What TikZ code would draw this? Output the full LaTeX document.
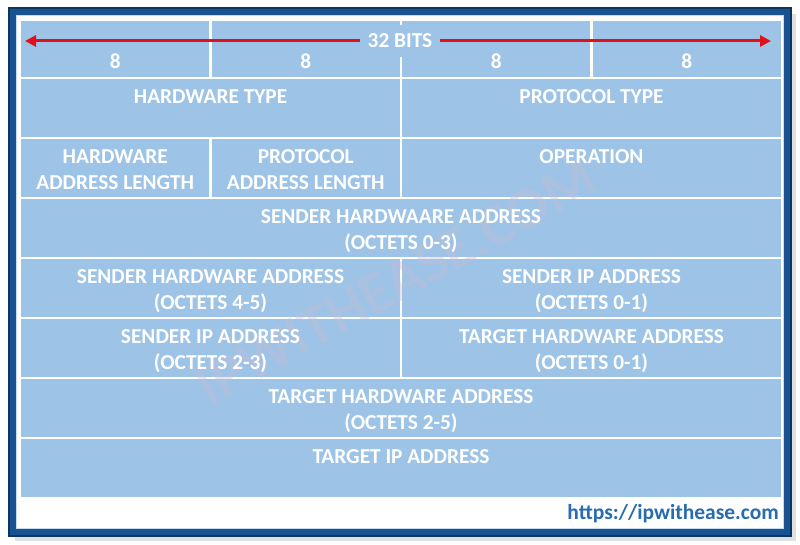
\documentclass[tikz,border=0pt]{standalone}
\usepackage{fontspec}
\setmainfont{Carlito}
\usetikzlibrary{arrows.meta}
\definecolor{cellblue}{RGB}{157,195,230}
\definecolor{frameblue}{RGB}{24,82,145}
\definecolor{framedark}{RGB}{14,52,98}
\definecolor{arrowred}{RGB}{226,16,24}
\definecolor{urlblue}{RGB}{38,108,176}
\definecolor{wmark}{RGB}{195,190,215}
\tikzset{
  cell/.style={fill=cellblue, draw=white, line width=2.6pt},
  lbl/.style={text=white, font=\bfseries\fontsize{21.3}{26}\selectfont, align=center, anchor=base, inner sep=0pt},
}
\begin{document}
\begin{tikzpicture}[x=1pt,y=-1pt]
\useasboundingbox (0,0) rectangle (800,545);
\fill[white] (0,0) rectangle (800,545);
% shadow and frame
\fill[black!12] (15,14) rectangle (796,541);
\fill[white] (12,11) rectangle (788,533);
\draw[frameblue, line width=8pt] (12,11) rectangle (788,533);
\draw[framedark, line width=2pt] (9,8) rectangle (791,536);
\draw[cellblue!60!white, line width=1pt] (16.5,15.5) rectangle (783.5,528.5);
% row 1
\path[cell] (20,20) rectangle (210.5,78);
\path[cell] (210.5,20) rectangle (401,78);
\path[cell] (401,20) rectangle (591.5,78);
\path[cell] (591.5,20) rectangle (782,78);
% row 2
\path[cell] (20,78) rectangle (401,138);
\path[cell] (401,78) rectangle (782,138);
% row 3
\path[cell] (20,138) rectangle (210.5,198);
\path[cell] (210.5,138) rectangle (401,198);
\path[cell] (401,138) rectangle (782,198);
% row 4
\path[cell] (20,198) rectangle (782,258);
% row 5
\path[cell] (20,258) rectangle (401,318);
\path[cell] (401,258) rectangle (782,318);
% row 6
\path[cell] (20,318) rectangle (401,378);
\path[cell] (401,318) rectangle (782,378);
% rows 7, 8
\path[cell] (20,378) rectangle (782,438);
\path[cell] (20,438) rectangle (782,498);
% watermark
\node[text=wmark, opacity=0.4, font=\bfseries\fontsize{60}{60}\selectfont, rotate=29] (wm) at (396,282) {IPWITHEASE.COM};
% arrow
\coordinate (al) at (25,41);
\coordinate (ar) at (771,41);
\draw[arrowred, line width=3pt, {Triangle[length=11pt,width=11pt]}-{Triangle[length=11pt,width=11pt]}] (al) -- (ar);
\node[fill=cellblue, text=white, font=\bfseries\fontsize{21.3}{26}\selectfont, inner xsep=8pt, minimum height=32pt] (bits) at (400,41) {32 BITS};
% labels (base = baseline of last line)
\node[lbl] (b1) at (115.25,69) {8};
\node[lbl] (b2) at (305.75,69) {8};
\node[lbl] (b3) at (496.25,69) {8};
\node[lbl] (b4) at (686.75,69) {8};
\node[lbl] (hwt) at (210.5,103.5) {HARDWARE TYPE};
\node[lbl] (prt) at (591.5,103.5) {PROTOCOL TYPE};
\node[lbl] (hal) at (115.25,189.5) {HARDWARE\\ADDRESS LENGTH};
\node[lbl] (pal) at (305.75,189.5) {PROTOCOL\\ADDRESS LENGTH};
\node[lbl] (op) at (591.5,163.5) {OPERATION};
\node[lbl] (sha1) at (401,249.5) {SENDER HARDWAARE ADDRESS\\(OCTETS 0-3)};
\node[lbl] (sha2) at (210.5,309.5) {SENDER HARDWARE ADDRESS\\(OCTETS 4-5)};
\node[lbl] (sip1) at (591.5,309.5) {SENDER IP ADDRESS\\(OCTETS 0-1)};
\node[lbl] (sip2) at (210.5,369.5) {SENDER IP ADDRESS\\(OCTETS 2-3)};
\node[lbl] (tha1) at (591.5,369.5) {TARGET HARDWARE ADDRESS\\(OCTETS 0-1)};
\node[lbl] (tha2) at (401,429.5) {TARGET HARDWARE ADDRESS\\(OCTETS 2-5)};
\node[lbl] (tip) at (401,463.5) {TARGET IP ADDRESS};
% url
\node[text=urlblue, font=\bfseries\fontsize{21.5}{24}\selectfont, anchor=base east, inner sep=0pt] (url) at (779,519) {https://ipwithease.com};
\end{tikzpicture}
\end{document}
